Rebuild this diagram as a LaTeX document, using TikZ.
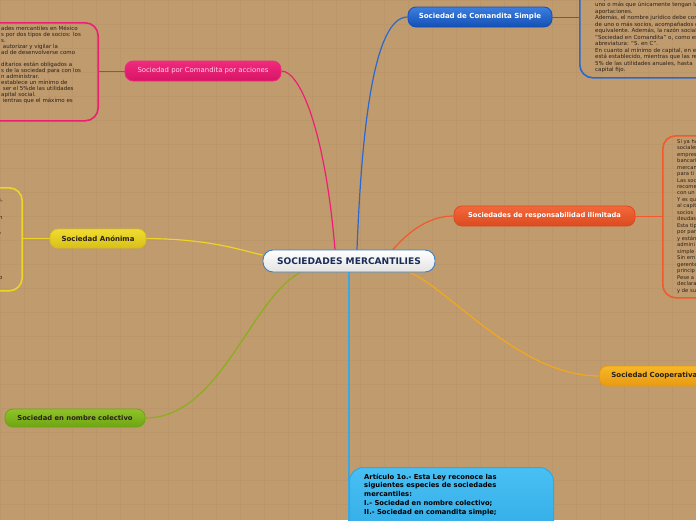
\documentclass[tikz,border=0pt]{standalone}
\usepackage{fontspec}
\setmainfont{DejaVu Sans}
\definecolor{bg}{HTML}{C09B6E}
\definecolor{gridc}{HTML}{B89468}
\definecolor{txt}{HTML}{2A2018}
\definecolor{blueA}{HTML}{3C7EE0}
\definecolor{blueB}{HTML}{1450B4}
\definecolor{blueL}{HTML}{2A68D0}
\definecolor{pinkA}{HTML}{F02A7E}
\definecolor{pinkB}{HTML}{D81466}
\definecolor{pinkL}{HTML}{EE1F73}
\definecolor{pinkT}{HTML}{FFD6E6}
\definecolor{redA}{HTML}{F2683A}
\definecolor{redB}{HTML}{DC4A20}
\definecolor{redL}{HTML}{F05A2C}
\definecolor{yelA}{HTML}{F0DC30}
\definecolor{yelB}{HTML}{D8C018}
\definecolor{yelL}{HTML}{EED424}
\definecolor{gldA}{HTML}{F7B828}
\definecolor{gldB}{HTML}{E89A10}
\definecolor{gldL}{HTML}{F2A81C}
\definecolor{grnA}{HTML}{8EC428}
\definecolor{grnB}{HTML}{6FA414}
\definecolor{grnL}{HTML}{8AAE1C}
\definecolor{lbA}{HTML}{48C0F4}
\definecolor{lbB}{HTML}{2FA8E4}
\definecolor{lbL}{HTML}{38A8E4}
\definecolor{cenB}{HTML}{3A82C4}
\definecolor{cenT}{HTML}{1A2C58}
\pgfdeclarelayer{bglayer}
\pgfdeclarelayer{connlayer}
\pgfsetlayers{bglayer,connlayer,main}
\begin{document}
\begin{tikzpicture}[x=1pt,y=-1pt,
  branch/.style={rounded corners=8pt, minimum height=20pt, inner sep=0pt,
    font=\bfseries\fontsize{7}{8}\selectfont, line width=0.8pt},
  tbox/.style={draw, rounded corners=13pt, line width=1.6pt, inner sep=0pt},
  conn/.style={line width=1.2pt},
  small/.style={font=\fontsize{5.5}{6.5}\selectfont, align=left, inner sep=0pt,
    anchor=north west, text=txt}]
\useasboundingbox (0,0) rectangle (696,520);
\clip (0,0) rectangle (696,520);
\begin{pgfonlayer}{bglayer}
\fill[bg] (0,0) rectangle (696,520);
\draw[gridc, line width=0.3pt, opacity=0.6] (0,0) grid[step=24pt] (696,520);
\end{pgfonlayer}

% text boxes
\node[tbox, draw=blueL, anchor=north west, minimum width=200pt, minimum height=97pt] (tb1) at (579,-20) {};
\node[tbox, draw=pinkL, anchor=north east, minimum width=160pt, minimum height=98pt] (tb2) at (99,22) {};
\node[tbox, draw=redL, anchor=north west, minimum width=100pt, minimum height=162pt] (tb3) at (662,135) {};
\node[tbox, draw=yelL, anchor=north east, minimum width=83pt, minimum height=103pt] (tb4) at (23,187) {};

% texts in text boxes
\node[small, font=\fontsize{5.5}{6.5}\selectfont] (t1) at (595,-4) {responden de manera ilimitada a las\\
uno o más que únicamente tengan la\\
aportaciones.\\
Además, el nombre jurídico debe con\\
de uno o más socios, acompañados d\\
equivalente. Además, la razón social\\
``Sociedad en Comandita'' o, como es\\
abreviatura: ``S. en C''.\\
En cuanto al mínimo de capital, en e\\
está establecido, mientras que las re\\
5\% de las utilidades anuales, hasta\\
capital fijo.};
\node[small, font=\fontsize{5.5}{6}\selectfont] (t2) at (1,26) {ades mercantiles en México\\
s por dos tipos de socios: los\\
s.\\
\ autorizar y vigilar la\\
ad de desenvolverse como\\
\mbox{}\\
ditarios están obligados a\\
s de la sociedad para con los\\
n administrar.\\
establece un mínimo de\\
\ ser el 5\%de las utilidades\\
apital social.\\
\ ientras que el máximo es};
\node[small, font=\fontsize{5.2}{6.48}\selectfont] (t3) at (677,139) {Si ya ha\\
sociales\\
empres\\
bancari\\
mercan\\
para ti\\
Las soc\\
recome\\
con un\\
Y es qu\\
al capit\\
socios\\
deudas\\
Esta tip\\
por par\\
y están\\
admini\\
simple\\
Sin em\\
gerente\\
princip\\
Pese a\\
declara\\
y de su};
\node[small] (t4a) at (-2,198) {s,};
\node[small] (t4b) at (-1,216) {n};
\node[small] (t4c) at (-2,229) {l,};
\node[small] (t4d) at (-1,276) {o};

% central
\node[draw=cenB, line width=0.9pt, rounded corners=10pt, top color=white, bottom color=gray!22,
  minimum width=172pt, minimum height=22pt, inner sep=0pt, text=cenT,
  font=\bfseries\fontsize{9.1}{10}\selectfont] (c) at (349,261) {SOCIEDADES MERCANTILIES};

% branch nodes
\node[branch, draw=blueB, top color=blueA, bottom color=blueB, text=white, minimum width=144pt] (cs) at (480,17) {Sociedad de Comandita Simple};
\node[branch, draw=pinkA, top color=pinkA, bottom color=pinkB, text=pinkT, minimum width=156pt,
  font=\fontsize{6.9}{8}\selectfont] (pca) at (203,71) {Sociedad por Comandita por acciones};
\node[branch, draw=redB, top color=redA, bottom color=redB, text=white, minimum width=181pt,
  font=\bfseries\fontsize{6.7}{8}\selectfont] (sri) at (544.5,216) {Sociedades de responsabilidad ilimitada};
\node[branch, draw=yelB, top color=yelA, bottom color=yelB, text=txt, minimum width=96pt, minimum height=19pt] (sa) at (98,238.5) {Sociedad Anónima};
\node[branch, draw=gldB, top color=gldA, bottom color=gldB, text=txt, anchor=west, minimum height=20pt,
  text width=100pt, align=left, inner xsep=12pt] (coop) at (599,376) {Sociedad Cooperativa};
\node[branch, draw=grnB, top color=grnA, bottom color=grnB, text=txt, minimum width=140pt, minimum height=18pt,
  font=\bfseries\fontsize{6.8}{8}\selectfont] (snc) at (75,418) {Sociedad en nombre colectivo};
\node[draw=lbB, line width=1pt, rounded corners=14pt, top color=lbA, bottom color=lbB, anchor=north west,
  minimum width=204pt, minimum height=80pt, inner sep=0pt] (art) at (349,467) {};
\node[small, font=\bfseries\fontsize{6.8}{8.8}\selectfont, text=black] (artt) at (364,473.5) {Artículo 1o.- Esta Ley reconoce las\\
siguientes especies de sociedades\\
mercantiles:\\
I.- Sociedad en nombre colectivo;\\
II.- Sociedad en comandita simple;};

% connectors
\begin{pgfonlayer}{connlayer}
\draw[conn, pinkL] ([xshift=-14pt]c.north) .. controls (325,130) and (300,71) .. (pca.east);
\draw[conn, blueL] ([xshift=8pt]c.north) .. controls (362,120) and (375,17) .. (cs.west);
\draw[conn, redL] ([xshift=44pt]c.north) .. controls (410,230) and (430,216) .. (sri.west);
\draw[conn, yelL] ([yshift=6pt]c.west) .. controls (240,250) and (210,239) .. (sa.east);
\draw[conn, grnL] ([xshift=-49pt]c.south) .. controls (250,300) and (220,418) .. (snc.east);
\draw[conn, gldL] ([xshift=61pt]c.south) .. controls (450,290) and (520,376) .. (coop.west);
\draw[conn, lbL] (c.south) -- (c.south |- art.south);
\draw[line width=0.8pt, blueL] (cs.east) -- (cs.east -| tb1.west);
\draw[line width=0.8pt, pinkL] (pca.west) -- (pca.west -| tb2.east);
\draw[line width=0.8pt, redL] (sri.east) -- (sri.east -| tb3.west);
\draw[line width=0.8pt, yelL] (sa.west) -- (sa.west -| tb4.east);
\end{pgfonlayer}
\end{tikzpicture}
\end{document}
